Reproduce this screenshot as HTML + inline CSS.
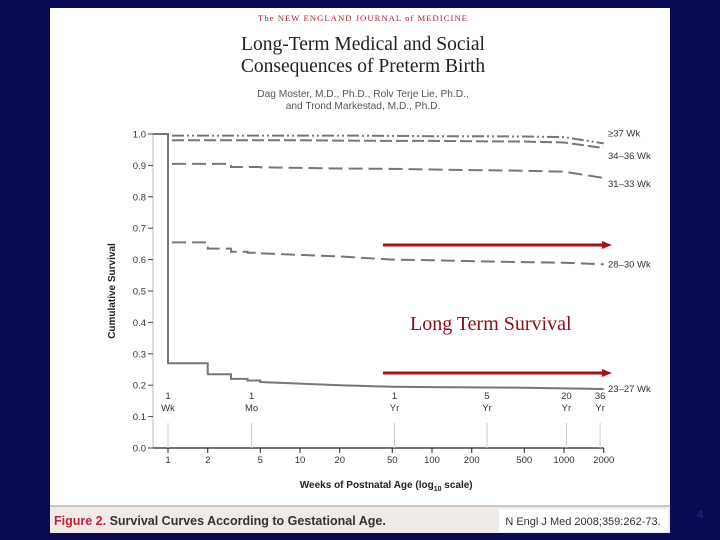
<!DOCTYPE html>
<html><head><meta charset="utf-8"><style>
body{margin:0;width:720px;height:540px;overflow:hidden;background:#0b0b55;}
svg{display:block}
</style></head><body>
<svg width="720" height="540" viewBox="0 0 720 540" xmlns="http://www.w3.org/2000/svg">
<rect x="50" y="8" width="620" height="498" fill="#ffffff"/>
<rect x="50" y="506" width="620" height="27" fill="#f1ebe8"/>
<line x1="50" y1="506" x2="670" y2="506" stroke="#999" stroke-width="1"/>
<rect x="499" y="509" width="169" height="23" fill="#ffffff"/>
<text x="363" y="21" text-anchor="middle" font-family="Liberation Serif, serif" font-size="8.7" fill="#b0203a" letter-spacing="1">The NEW ENGLAND JOURNAL of MEDICINE</text>
<text x="363" y="50" text-anchor="middle" font-family="Liberation Serif, serif" font-size="19.5" fill="#222">Long-Term Medical and Social</text>
<text x="363" y="72" text-anchor="middle" font-family="Liberation Serif, serif" font-size="19.5" fill="#222">Consequences of Preterm Birth</text>
<text x="363" y="97" text-anchor="middle" font-family="Liberation Sans, sans-serif" font-size="10.2" fill="#555">Dag Moster, M.D., Ph.D., Rolv Terje Lie, Ph.D.,</text>
<text x="363" y="109" text-anchor="middle" font-family="Liberation Sans, sans-serif" font-size="10.2" fill="#555">and Trond Markestad, M.D., Ph.D.</text>
<g id="chart"></g>
<text x="410" y="330" font-family="Liberation Serif, serif" font-size="20" fill="#8b0d1a">Long Term Survival</text>
<text x="54" y="525" font-family="Liberation Sans, sans-serif" font-size="12.5" font-weight="bold" fill="#333"><tspan fill="#c0203a">Figure 2.</tspan> Survival Curves According to Gestational Age.</text>
<text x="583" y="525" text-anchor="middle" font-family="Liberation Sans, sans-serif" font-size="11" fill="#333">N Engl J Med 2008;359:262-73.</text>
<text x="697" y="518" font-family="Liberation Sans, sans-serif" font-size="11" fill="#2a2a8a">4</text>
</svg>
<script>
const xTicks=[1,2,5,10,20,50,100,200,500,1000,2000];
const yTicks=[0,0.1,0.2,0.3,0.4,0.5,0.6,0.7,0.8,0.9,1.0];
const ageWeeks=[1,4.3,52,261,1043,1878];
const ageTop=["1","1","1","5","20","36"];
const ageBottom=["Wk","Mo","Yr","Yr","Yr","Yr"];
const seriesNames=["≥37 Wk","34–36 Wk","31–33 Wk","28–30 Wk","23–27 Wk"];
const weeks=[1,2,3,4,5,10,20,50,100,200,500,1000,2000];
const s37=[0.995,0.995,0.995,0.995,0.995,0.995,0.995,0.994,0.993,0.993,0.992,0.99,0.97];
const s34=[0.98,0.98,0.98,0.98,0.98,0.98,0.979,0.978,0.978,0.977,0.976,0.973,0.955];
const s31=[0.905,0.905,0.895,0.895,0.894,0.892,0.89,0.889,0.887,0.885,0.883,0.88,0.86];
const s28=[0.655,0.635,0.625,0.622,0.62,0.615,0.61,0.6,0.598,0.595,0.592,0.59,0.585];
const s23=[0.27,0.235,0.22,0.215,0.21,0.205,0.2,0.195,0.194,0.193,0.192,0.19,0.188];
const labelVals=[0.995,0.955,0.86,0.585,0.188];
const NS="http://www.w3.org/2000/svg";
const g=document.getElementById('chart');
const X=v=>168+132*Math.log10(v);
const Y=v=>448-314*v;
function mk(t,a){const e=document.createElementNS(NS,t);for(const k in a)e.setAttribute(k,a[k]);g.appendChild(e);return e;}
const F="Liberation Sans, sans-serif";
let ax=mk('line',{x1:153,y1:Y(1),x2:153,y2:Y(0),stroke:'#bbb','stroke-width':1});


let xa=mk('line',{x1:153,y1:Y(0),x2:X(2000),y2:Y(0),stroke:'#222','stroke-width':1.3});


yTicks.forEach(v=>{
 mk('line',{x1:148,y1:Y(v),x2:153,y2:Y(v),stroke:'#444'});
 const t=mk('text',{x:146,y:Y(v)+3.5,'text-anchor':'end','font-family':F,'font-size':9.5,fill:'#333'});
 t.textContent=v.toFixed(1);
 
 
});
xTicks.forEach(v=>{
 mk('line',{x1:X(v),y1:Y(0),x2:X(v),y2:Y(0)+5,stroke:'#222'});
 const t=mk('text',{x:X(v),y:Y(0)+15,'text-anchor':'middle','font-family':F,'font-size':9.5,fill:'#333'});
 t.textContent=v;
 
 
});
ageWeeks.forEach((w,i)=>{
 mk('line',{x1:X(w),y1:Y(0)-25,x2:X(w),y2:Y(0),stroke:'#ccc'});
 const a=mk('text',{x:X(w),y:Y(0)-49,'text-anchor':'middle','font-family':F,'font-size':9.5,fill:'#333'});
 a.textContent=ageTop[i];
 
 
 const b=mk('text',{x:X(w),y:Y(0)-37,'text-anchor':'middle','font-family':F,'font-size':9.5,fill:'#333'});
 b.textContent=ageBottom[i];
 
 
});
const xt=mk('text',{x:X(45),y:488,'text-anchor':'middle','font-family':F,'font-size':10,'font-weight':'bold',fill:'#222'});
xt.innerHTML='Weeks of Postnatal Age (log<tspan font-size="7" dy="3">10</tspan><tspan dy="-3"> scale)</tspan>';


const yt=mk('text',{x:0,y:0,'text-anchor':'middle','font-family':F,'font-size':10,'font-weight':'bold',fill:'#222',transform:'translate(115,'+Y(0.5)+') rotate(-90)'});
yt.textContent='Cumulative Survival';


const all=[s37,s34,s31,s28,s23];
const dashes=['12,3,2,3,2,3','12,4','14,6','14,6',''];
all.forEach((s,k)=>{
 let d='';
 if(k===4){d='M153,'+Y(1)+' L'+X(1)+','+Y(1)+' L'+X(1)+','+Y(s[0]);}
 else d='M'+(X(1)+4)+','+Y(s[0]);
 for(let i=1;i<weeks.length;i++){
  if(i<5){d+=' L'+X(weeks[i])+','+Y(s[i-1])+' L'+X(weeks[i])+','+Y(s[i]);}
  else d+=' L'+X(weeks[i])+','+Y(s[i]);
 }
 const p=mk('path',{d:d,fill:'none',stroke:'#777','stroke-width':2,'stroke-dasharray':dashes[k]});
 
 
 const off=[0,8,6,0,0][k];
 const t=mk('text',{x:608,y:Y(labelVals[k])+off-(k===0?2:0)+3,'font-family':F,'font-size':9.5,fill:'#333'});
 t.textContent=seriesNames[k];
 
 
});
[245,373].forEach((yy,i)=>{
 const l=mk('line',{x1:383,y1:yy,x2:604,y2:yy,stroke:'#a5121e','stroke-width':3});
 
 
 mk('polygon',{points:'602,'+(yy-4)+' 612,'+yy+' 602,'+(yy+4),fill:'#a5121e'});
});
</script>
</body></html>
